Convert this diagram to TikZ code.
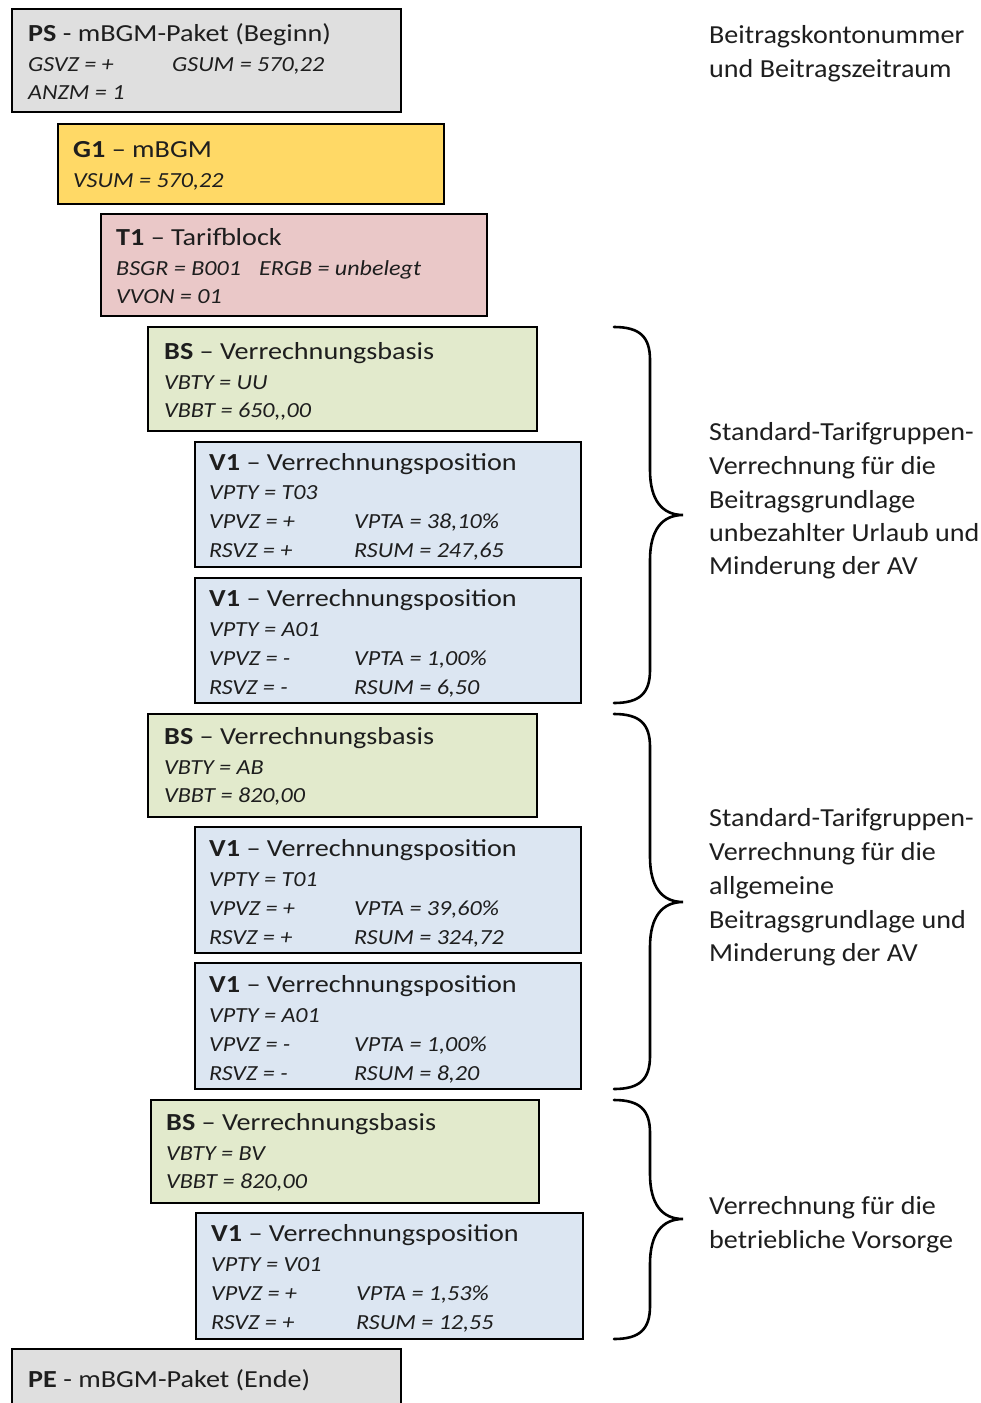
\documentclass[tikz,border=0pt]{standalone}
\usepackage{fontspec}
\setmainfont{Carlito}
\newfontfamily\ttlfont{Carlito}[FakeStretch=1.15]
\newfontfamily\itlfont{Carlito}[FakeStretch=1.12]
\newfontfamily\lblfont{Carlito}[FakeStretch=1.08]
\definecolor{txt}{HTML}{1E1E1E}
\definecolor{cgray}{HTML}{DFDFDF}
\definecolor{cyellow}{HTML}{FFD966}
\definecolor{cpink}{HTML}{EAC8C8}
\definecolor{cgreen}{HTML}{E2EACC}
\definecolor{cblue}{HTML}{DCE6F2}
\newcommand{\brc}[4]{%
  \coordinate (#1t) at (614,#2);
  \coordinate (#1m) at (683,#3);
  \coordinate (#1b) at (614,#4);
  \draw[brace] (#1t) .. controls (640,#2) and (650,#2+10) .. (650,#2+33)
    -- (650,#3-45) .. controls (650,#3-15) and (662,#3) .. (#1m)
    .. controls (662,#3) and (650,#3+15) .. (650,#3+45)
    -- (650,#4-33) .. controls (650,#4-10) and (640,#4) .. (#1b);}
\begin{document}
\begin{tikzpicture}[x=1pt,y=-1pt,
  box/.style={draw=black, line width=2.6pt, anchor=north west, inner sep=0pt, outer sep=0pt},
  ttl/.style={anchor=base west, inner sep=0pt, font=\ttlfont\fontsize{24.5}{28}\selectfont, text=txt},
  itl/.style={anchor=base west, inner sep=0pt, font=\itlfont\fontsize{21.5}{24}\selectfont\itshape, text=txt},
  lbl/.style={anchor=base west, inner sep=0pt, font=\lblfont\fontsize{26}{33}\selectfont, text=txt},
  brace/.style={draw=black, line width=2.6pt, line cap=round}]
\useasboundingbox (0,0) rectangle (981,1403);

% PS
\node[box, fill=cgray, minimum width=389pt, minimum height=103pt] (ps) at (12,9) {};
\node[ttl] (pst) at (28,41) {\textbf{PS} - mBGM-Paket (Beginn)};
\node[itl] (ps1) at (28,71) {GSVZ = +};
\node[itl] (ps2) at (172,71) {GSUM = 570,22};
\node[itl] (ps3) at (28,99) {ANZM = 1};

% G1
\node[box, fill=cyellow, minimum width=386pt, minimum height=80pt] (g1) at (58,124) {};
\node[ttl] (g1t) at (73,157) {\textbf{G1} – mBGM};
\node[itl] (g11) at (73,187) {VSUM = 570,22};

% T1
\node[box, fill=cpink, minimum width=386pt, minimum height=102pt] (t1) at (101,214) {};
\node[ttl] (t1t) at (116,245) {\textbf{T1} – Tarifblock};
\node[itl] (t11) at (116,275) {BSGR = B001};
\node[itl] (t12) at (259,275) {ERGB = unbelegt};
\node[itl] (t13) at (116,303) {VVON = 01};

% BS1
\node[box, fill=cgreen, minimum width=389pt, minimum height=104pt] (bs1) at (148,327) {};
\node[ttl] (bs1t) at (164,359) {\textbf{BS} – Verrechnungsbasis};
\node[itl] (bs11) at (164,389) {VBTY = UU};
\node[itl] (bs12) at (164,417) {VBBT = 650,,00};

% V1a
\node[box, fill=cblue, minimum width=386pt, minimum height=125pt] (v1a) at (195,442) {};
\node[ttl] (v1at) at (209,470) {\textbf{V1} – Verrechnungsposition};
\node[itl] (v1a1) at (209,499) {VPTY = T03};
\node[itl] (v1a2) at (209,528) {VPVZ = +};
\node[itl] (v1a3) at (354,528) {VPTA = 38,10\%};
\node[itl] (v1a4) at (209,557) {RSVZ = +};
\node[itl] (v1a5) at (354,557) {RSUM = 247,65};

% V1b
\node[box, fill=cblue, minimum width=386pt, minimum height=125pt] (v1b) at (195,578) {};
\node[ttl] (v1bt) at (209,606) {\textbf{V1} – Verrechnungsposition};
\node[itl] (v1b1) at (209,636) {VPTY = A01};
\node[itl] (v1b2) at (209,665) {VPVZ = -};
\node[itl] (v1b3) at (354,665) {VPTA = 1,00\%};
\node[itl] (v1b4) at (209,694) {RSVZ = -};
\node[itl] (v1b5) at (354,694) {RSUM = 6,50};

% BS2
\node[box, fill=cgreen, minimum width=389pt, minimum height=103pt] (bs2) at (148,714) {};
\node[ttl] (bs2t) at (164,744) {\textbf{BS} – Verrechnungsbasis};
\node[itl] (bs21) at (164,774) {VBTY = AB};
\node[itl] (bs22) at (164,802) {VBBT = 820,00};

% V1c
\node[box, fill=cblue, minimum width=386pt, minimum height=126pt] (v1c) at (195,827) {};
\node[ttl] (v1ct) at (209,856) {\textbf{V1} – Verrechnungsposition};
\node[itl] (v1c1) at (209,886) {VPTY = T01};
\node[itl] (v1c2) at (209,915) {VPVZ = +};
\node[itl] (v1c3) at (354,915) {VPTA = 39,60\%};
\node[itl] (v1c4) at (209,944) {RSVZ = +};
\node[itl] (v1c5) at (354,944) {RSUM = 324,72};

% V1d
\node[box, fill=cblue, minimum width=386pt, minimum height=126pt] (v1d) at (195,963) {};
\node[ttl] (v1dt) at (209,992) {\textbf{V1} – Verrechnungsposition};
\node[itl] (v1d1) at (209,1022) {VPTY = A01};
\node[itl] (v1d2) at (209,1051) {VPVZ = -};
\node[itl] (v1d3) at (354,1051) {VPTA = 1,00\%};
\node[itl] (v1d4) at (209,1080) {RSVZ = -};
\node[itl] (v1d5) at (354,1080) {RSUM = 8,20};

% BS3
\node[box, fill=cgreen, minimum width=388pt, minimum height=103pt] (bs3) at (151,1100) {};
\node[ttl] (bs3t) at (166,1130) {\textbf{BS} – Verrechnungsbasis};
\node[itl] (bs31) at (166,1160) {VBTY = BV};
\node[itl] (bs32) at (166,1188) {VBBT = 820,00};

% V1e
\node[box, fill=cblue, minimum width=387pt, minimum height=126pt] (v1e) at (196,1213) {};
\node[ttl] (v1et) at (211,1241) {\textbf{V1} – Verrechnungsposition};
\node[itl] (v1e1) at (211,1271) {VPTY = V01};
\node[itl] (v1e2) at (211,1300) {VPVZ = +};
\node[itl] (v1e3) at (356,1300) {VPTA = 1,53\%};
\node[itl] (v1e4) at (211,1329) {RSVZ = +};
\node[itl] (v1e5) at (356,1329) {RSUM = 12,55};

% PE
\node[box, fill=cgray, minimum width=389pt, minimum height=70pt] (pe) at (12,1349) {};
\node[ttl] (pet) at (28,1387) {\textbf{PE} - mBGM-Paket (Ende)};

% braces
\brc{ba}{327}{515}{703}
\brc{bb}{714}{902}{1089}
\brc{bc}{1100}{1219}{1339}

% labels
\node[lbl] (l0a) at (709,43) {Beitragskontonummer};
\node[lbl] (l0b) at (709,77) {und Beitragszeitraum};
\node[lbl] (l1a) at (709,440) {Standard-Tarifgruppen-};
\node[lbl] (l1b) at (709,474) {Verrechnung für die};
\node[lbl] (l1c) at (709,508) {Beitragsgrundlage};
\node[lbl] (l1d) at (709,541) {unbezahlter Urlaub und};
\node[lbl] (l1e) at (709,574) {Minderung der AV};
\node[lbl] (l2a) at (709,826) {Standard-Tarifgruppen-};
\node[lbl] (l2b) at (709,860) {Verrechnung für die};
\node[lbl] (l2c) at (709,894) {allgemeine};
\node[lbl] (l2d) at (709,928) {Beitragsgrundlage und};
\node[lbl] (l2e) at (709,961) {Minderung der AV};
\node[lbl] (l3a) at (709,1214) {Verrechnung für die};
\node[lbl] (l3b) at (709,1248) {betriebliche Vorsorge};
\end{tikzpicture}
\end{document}
